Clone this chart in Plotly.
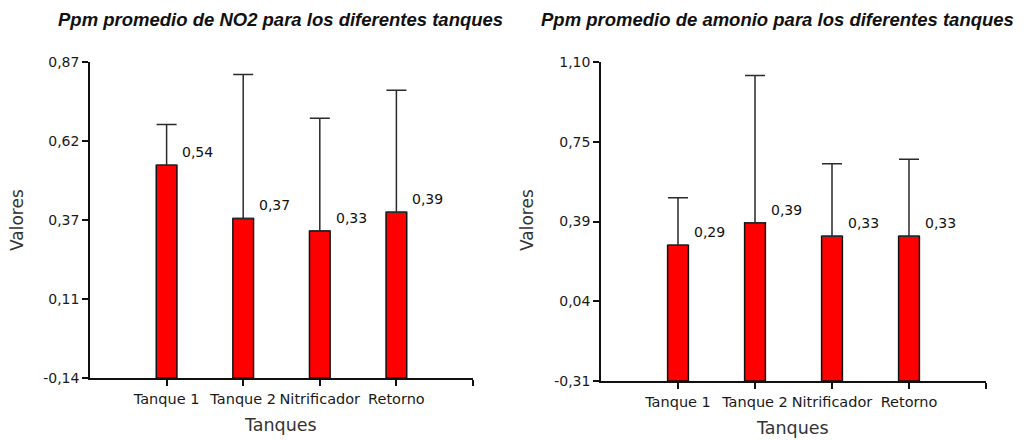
import numpy as np
import plotly.graph_objects as go

# Data
categorias = ["Tanque 1", "Tanque 2", "Nitrificador", "Retorno"]

no2_media = [0.54, 0.37, 0.33, 0.39]
no2_error = [0.13, 0.46, 0.36, 0.39]
no2_ticks = ["-0,14", "0,11", "0,37", "0,62", "0,87"]
no2_rango = [-0.14, 0.87]

amonio_media = [0.29, 0.39, 0.33, 0.33]
amonio_error = [0.21, 0.65, 0.32, 0.34]
amonio_ticks = ["-0,31", "0,04", "0,39", "0,75", "1,10"]
amonio_rango = [-0.31, 1.10]

W, H = 1024, 440
FONT = "DejaVu Sans"
TITLE_FONT = "Liberation Sans"


def px(x):
    return x / W


def py(y):
    return 1 - y / H


fig = go.Figure()

paneles = [
    ("x", "y", no2_media, no2_error, no2_rango),
    ("x2", "y2", amonio_media, amonio_error, amonio_rango),
]

for xa, ya, medias, errores, rango in paneles:
    base = rango[0]
    # bars rise from the bottom of the value axis
    fig.add_trace(go.Bar(
        x=list(range(len(categorias))),
        y=[m - base for m in medias],
        base=base,
        width=0.27,
        marker=dict(color="#ff0000", line=dict(color="#111111", width=1.5)),
        error_y=dict(type="data", array=errores, symmetric=False,
                     arrayminus=[0] * len(errores),
                     color="#2a2a2a", thickness=1.5, width=10),
        xaxis=xa, yaxis=ya, showlegend=False, hoverinfo="skip",
    ))
    for i, m in enumerate(medias):
        fig.add_annotation(
            x=i + 0.18, y=m, xref=xa, yref=ya,
            text=f"{m:.2f}".replace(".", ","),
            xanchor="left", yanchor="middle", yshift=13, showarrow=False,
            font=dict(family=FONT, size=14, color="#111111"),
        )

eje_x = dict(
    range=[-1, 4], tickmode="array",
    tickvals=[0, 1, 2, 3, 4], ticktext=categorias + [""],
    tickangle=0,
    ticks="outside", ticklen=6, tickwidth=1.5, tickcolor="#111111",
    showline=True, linecolor="#111111", linewidth=1.5,
    showgrid=False, zeroline=False, ticklabelstandoff=1, automargin=False,
    tickfont=dict(family=FONT, size=14.5, color="#1a1a1a"),
)


def eje_y(rango, etiquetas, dominio):
    return dict(
        range=rango, domain=dominio, tickmode="array",
        tickvals=list(np.linspace(rango[0], rango[1], len(etiquetas))),
        ticktext=etiquetas, automargin=False,
        ticks="outside", ticklen=6, tickwidth=1.5, tickcolor="#111111",
        showline=True, linecolor="#111111", linewidth=1.5,
        showgrid=False, zeroline=False,
        tickfont=dict(family=FONT, size=14, color="#1a1a1a"),
    )


fig.update_layout(
    width=W, height=H,
    margin=dict(l=0, r=0, t=0, b=0, autoexpand=False),
    paper_bgcolor="white", plot_bgcolor="white",
    xaxis=dict(eje_x, domain=[px(90), px(473)], anchor="y"),
    xaxis2=dict(eje_x, domain=[px(601), px(986)], anchor="y2"),
    yaxis=dict(eje_y(no2_rango, no2_ticks, [py(378), py(62)]), anchor="x"),
    yaxis2=dict(eje_y(amonio_rango, amonio_ticks, [py(381), py(62)]), anchor="x2"),
)

titulos = [
    ("Ppm promedio de NO2 para los diferentes tanques", 280),
    ("Ppm promedio de amonio para los diferentes tanques", 777),
]
for texto, cx in titulos:
    fig.add_annotation(
        x=px(cx), y=py(20), xref="paper", yref="paper",
        text=f"<b><i>{texto}</i></b>", showarrow=False,
        xanchor="center", yanchor="middle",
        font=dict(family=TITLE_FONT, size=18.5, color="#111111"),
    )

for cx in (17, 527):
    fig.add_annotation(
        x=px(cx), y=py(220), xref="paper", yref="paper",
        text="Valores", textangle=-90, showarrow=False,
        xanchor="center", yanchor="middle",
        font=dict(family=FONT, size=17, color="#333333"),
    )

for cx, cy in ((280, 425), (792, 428)):
    fig.add_annotation(
        x=px(cx), y=py(cy), xref="paper", yref="paper",
        text="Tanques", showarrow=False,
        xanchor="center", yanchor="middle",
        font=dict(family=FONT, size=17.5, color="#333333"),
    )

fig.write_html("out.html")
